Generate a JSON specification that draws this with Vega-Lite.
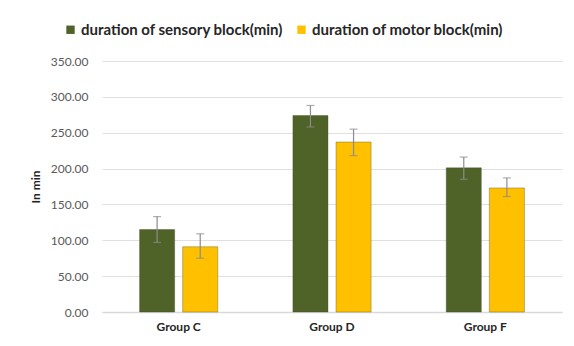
{
  "$schema": "https://vega.github.io/schema/vega-lite/v6.json",
  "width": 460,
  "height": 251,
  "autosize": {"type": "none"},
  "padding": {"left": 102, "top": 61, "right": 12, "bottom": 34},
  "background": "white",
  "config": {
    "font": "Lato",
    "view": {"stroke": null},
    "axis": {"labelFont": "Lato", "titleFont": "Lato"}
  },
  "data": {
    "values": [
      {"group": "Group C", "series": "duration of sensory block(min)", "mean": 115, "lo": 97, "hi": 133},
      {"group": "Group C", "series": "duration of motor block(min)", "mean": 91, "lo": 75, "hi": 109},
      {"group": "Group D", "series": "duration of sensory block(min)", "mean": 274, "lo": 258, "hi": 288},
      {"group": "Group D", "series": "duration of motor block(min)", "mean": 237, "lo": 218, "hi": 255},
      {"group": "Group F", "series": "duration of sensory block(min)", "mean": 201, "lo": 185, "hi": 216},
      {"group": "Group F", "series": "duration of motor block(min)", "mean": 173, "lo": 161, "hi": 187}
    ]
  },
  "encoding": {
    "x": {
      "field": "group", "type": "nominal", "sort": null,
      "scale": {"paddingInner": 0.49, "paddingOuter": 0.245},
      "axis": {"title": null, "labelAngle": 0, "labelFontWeight": "bold", "labelFontSize": 12, "labelColor": "#262626", "labelPadding": 9, "ticks": false, "domainColor": "#d9d9d9", "domainWidth": 1.5}
    },
    "xOffset": {
      "field": "series", "type": "nominal",
      "sort": ["duration of sensory block(min)", "duration of motor block(min)"],
      "scale": {"paddingInner": 0.186, "paddingOuter": 0}
    }
  },
  "layer": [
    {
      "mark": {"type": "bar", "stroke": "#3f4f1f", "strokeWidth": 0.6, "strokeOpacity": 0.6},
      "encoding": {
        "y": {
          "field": "mean", "type": "quantitative",
          "scale": {"domain": [0, 350]},
          "axis": {"title": "In min", "titleFontWeight": "bold", "titleFontSize": 12, "titleColor": "#262626", "titlePadding": 8, "values": [0, 50, 100, 150, 200, 250, 300, 350], "format": ".2f", "labelOverlap": false, "labelFontSize": 12, "labelColor": "#595959", "labelPadding": 14, "ticks": false, "domain": false, "gridColor": "#e0e0e0", "gridWidth": 1}
        },
        "color": {
          "field": "series", "type": "nominal",
          "sort": ["duration of sensory block(min)", "duration of motor block(min)"],
          "scale": {"range": ["#4f6228", "#ffc000"]},
          "legend": {"title": null, "orient": "none", "direction": "horizontal", "legendX": -39, "legendY": -39, "symbolType": "square", "symbolSize": 70, "symbolStrokeWidth": 0, "labelFontSize": 15, "labelFontWeight": "bold", "labelColor": "#262626", "labelLimit": 0, "columnPadding": 10, "labelOffset": 3}
        }
      }
    },
    {
      "mark": {"type": "rule", "color": "#8c8c8c", "strokeWidth": 1.2},
      "encoding": {
        "y": {"field": "lo", "type": "quantitative",
          "axis": {"title": "In min", "titleFontWeight": "bold", "titleFontSize": 12, "titleColor": "#262626", "titlePadding": 8, "values": [0, 50, 100, 150, 200, 250, 300, 350], "format": ".2f", "labelOverlap": false, "labelFontSize": 12, "labelColor": "#595959", "labelPadding": 14, "ticks": false, "domain": false, "gridColor": "#e0e0e0", "gridWidth": 1}},
        "y2": {"field": "hi"}
      }
    },
    {
      "mark": {"type": "tick", "color": "#8c8c8c", "thickness": 1.2, "size": 8, "orient": "horizontal"},
      "encoding": {"y": {"field": "hi", "type": "quantitative",
          "axis": {"title": "In min", "titleFontWeight": "bold", "titleFontSize": 12, "titleColor": "#262626", "titlePadding": 8, "values": [0, 50, 100, 150, 200, 250, 300, 350], "format": ".2f", "labelOverlap": false, "labelFontSize": 12, "labelColor": "#595959", "labelPadding": 14, "ticks": false, "domain": false, "gridColor": "#e0e0e0", "gridWidth": 1}}}
    },
    {
      "mark": {"type": "tick", "color": "#8c8c8c", "thickness": 1.2, "size": 8, "orient": "horizontal"},
      "encoding": {"y": {"field": "lo", "type": "quantitative",
          "axis": {"title": "In min", "titleFontWeight": "bold", "titleFontSize": 12, "titleColor": "#262626", "titlePadding": 8, "values": [0, 50, 100, 150, 200, 250, 300, 350], "format": ".2f", "labelOverlap": false, "labelFontSize": 12, "labelColor": "#595959", "labelPadding": 14, "ticks": false, "domain": false, "gridColor": "#e0e0e0", "gridWidth": 1}}}
    }
  ]
}
